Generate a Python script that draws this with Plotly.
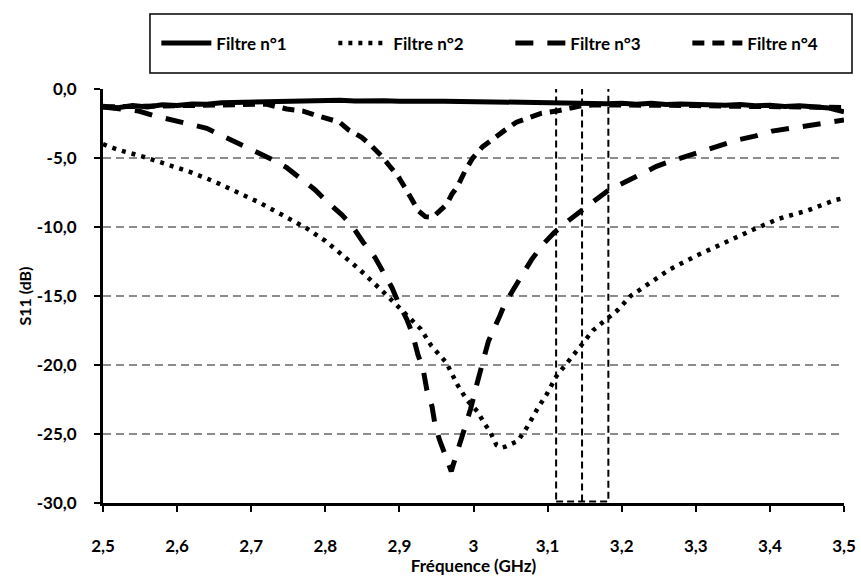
import plotly.graph_objects as go

# ---------------- data ----------------
x_f1 = [2.50, 2.52, 2.54, 2.56, 2.58, 2.60, 2.62, 2.64, 2.66, 2.68, 2.70, 2.72, 2.74, 2.76, 2.78,
        2.80, 2.82, 2.84, 2.86, 2.88, 2.90, 2.92, 2.94, 2.96, 2.98, 3.00, 3.02, 3.04, 3.06, 3.08,
        3.10, 3.12, 3.14, 3.16, 3.18, 3.20, 3.22, 3.24, 3.26, 3.28, 3.30, 3.32, 3.34, 3.36, 3.38,
        3.40, 3.42, 3.44, 3.46, 3.48, 3.50]
y_f1 = [-1.25, -1.35, -1.20, -1.30, -1.15, -1.20, -1.08, -1.10, -1.00, -0.98, -0.92, -0.95, -0.88, -0.90, -0.84,
        -0.86, -0.82, -0.87, -0.82, -0.86, -0.88, -0.84, -0.89, -0.88, -0.90, -0.88, -0.93, -0.90, -0.96, -0.93,
        -0.99, -0.98, -1.04, -1.00, -1.06, -1.03, -1.10, -1.04, -1.12, -1.08, -1.13, -1.10, -1.18, -1.12, -1.22,
        -1.18, -1.27, -1.22, -1.33, -1.38, -1.65]

x_f2 = [2.500, 2.520, 2.554, 2.585, 2.617, 2.650, 2.680, 2.710, 2.741, 2.775, 2.800, 2.817, 2.846, 2.882,
        2.900, 2.929, 2.943, 2.963, 2.979, 2.992, 3.006, 3.013, 3.022, 3.031, 3.038, 3.044, 3.060, 3.073,
        3.087, 3.098, 3.112, 3.129, 3.145, 3.161, 3.179, 3.195, 3.212, 3.242, 3.264, 3.300, 3.340, 3.377,
        3.412, 3.451, 3.488, 3.500]
y_f2 = [-4.0, -4.4, -4.9, -5.4, -6.0, -6.7, -7.45, -8.2, -9.1, -10.1, -11.0, -11.75, -13.07, -14.9,
        -15.9, -17.4, -18.6, -19.8, -21.5, -22.6, -23.4, -24.1, -24.8, -25.8, -26.0, -25.9, -25.5, -24.45,
        -23.1, -22.2, -20.8, -19.6, -18.6, -17.5, -16.7, -16.0, -15.0, -13.9, -13.1, -12.1, -11.1, -10.2,
        -9.4, -8.8, -8.05, -7.9]

x_f3 = [2.500, 2.520, 2.548, 2.570, 2.593, 2.617, 2.640, 2.662, 2.682, 2.705, 2.728, 2.748, 2.765, 2.786,
        2.803, 2.822, 2.836, 2.851, 2.867, 2.878, 2.890, 2.898, 2.910, 2.918, 2.925, 2.932, 2.937, 2.944,
        2.948, 2.954, 2.963, 2.970, 2.974, 2.980, 2.988, 2.996, 3.004, 3.010, 3.020, 3.035, 3.042, 3.053,
        3.065, 3.078, 3.093, 3.109, 3.129, 3.146, 3.166, 3.183, 3.206, 3.224, 3.247, 3.268, 3.291, 3.314,
        3.334, 3.356, 3.381, 3.403, 3.428, 3.449, 3.473, 3.500]
y_f3 = [-1.3, -1.45, -1.6, -1.95, -2.2, -2.55, -2.85, -3.4, -3.85, -4.5, -5.1, -5.7, -6.4, -7.3,
        -8.2, -9.1, -9.9, -11.1, -12.2, -13.2, -14.4, -15.4, -16.7, -17.8, -19.25, -20.3, -21.8, -23.0,
        -24.3, -25.4, -26.7, -27.7, -27.0, -26.0, -24.5, -23.2, -21.5, -20.4, -18.3, -16.5, -15.6, -14.6,
        -13.5, -12.4, -11.3, -10.4, -9.5, -8.8, -8.0, -7.3, -6.7, -6.2, -5.6, -5.2, -4.8, -4.4,
        -4.1, -3.7, -3.4, -3.05, -2.85, -2.65, -2.45, -2.25]

x_f4 = [2.500, 2.550, 2.600, 2.650, 2.700, 2.720, 2.748, 2.770, 2.790, 2.806, 2.819, 2.831, 2.849, 2.862,
        2.875, 2.887, 2.898, 2.907, 2.916, 2.926, 2.935, 2.945, 2.954, 2.964, 2.971, 2.978, 2.988, 2.999,
        3.012, 3.027, 3.042, 3.058, 3.074, 3.092, 3.112, 3.130, 3.147, 3.166, 3.200, 3.250, 3.300, 3.350,
        3.400, 3.450, 3.500]
y_f4 = [-1.3, -1.25, -1.15, -1.1, -1.05, -1.1, -1.45, -1.6, -1.95, -2.2, -2.4, -2.95, -3.5, -4.1,
        -4.8, -5.6, -6.3, -7.1, -8.0, -8.85, -9.25, -9.3, -8.85, -8.35, -7.6, -7.1, -6.0, -5.0,
        -4.2, -3.55, -3.0, -2.4, -2.1, -1.75, -1.6, -1.35, -1.2, -1.15, -1.15, -1.2, -1.2, -1.25,
        -1.25, -1.3, -1.35]

series_names = ["Filtre n°1", "Filtre n°2", "Filtre n°3", "Filtre n°4"]

x_tick_vals = [2.5, 2.6, 2.7, 2.8, 2.9, 3.0, 3.1, 3.2, 3.3, 3.4, 3.5]
x_tick_text = ["2,5", "2,6", "2,7", "2,8", "2,9", "3", "3,1", "3,2", "3,3", "3,4", "3,5"]
y_tick_vals = [0, -5, -10, -15, -20, -25, -30]
y_tick_text = ["0,0", "-5,0", "-10,0", "-15,0", "-20,0", "-25,0", "-30,0"]

# zoom rectangle (GHz / dB)
rect_x0, rect_xm, rect_x1 = 3.1115, 3.1465, 3.182
rect_y0, rect_y1 = -29.9, 0.12

# ---------------- figure ----------------
FONT = "Lato"

fig = go.Figure()
styles = [
    dict(width=5, dash="solid"),
    dict(width=4.5, dash="4px,6px"),
    dict(width=5, dash="18px,14px"),
    dict(width=5, dash="12px,8px"),
]
for name, xs, ys, st in zip(series_names, [x_f1, x_f2, x_f3, x_f4], [y_f1, y_f2, y_f3, y_f4], styles):
    fig.add_trace(go.Scatter(x=xs, y=ys, mode="lines", name=name,
                             line=dict(color="black", width=st["width"], dash=st["dash"])))

dash_line = dict(color="black", width=2, dash="7px,4px")
fig.add_shape(type="rect", x0=rect_x0, x1=rect_x1, y0=rect_y0, y1=rect_y1, line=dash_line, layer="above")
fig.add_shape(type="line", x0=rect_xm, x1=rect_xm, y0=rect_y0, y1=rect_y1, line=dash_line, layer="above")

# legend frame (paper coordinates)
fig.add_shape(type="rect", xref="paper", yref="paper", x0=0.0634, x1=1.0108, y0=1.0387, y1=1.181,
              line=dict(color="black", width=1.5), fillcolor="white", layer="below")

fig.update_layout(
    width=861, height=576,
    margin=dict(l=103, r=17, t=89, b=73, autoexpand=False),
    paper_bgcolor="white", plot_bgcolor="white",
    font=dict(family=FONT, size=17, color="black", weight="bold"),
    showlegend=True,
    legend=dict(orientation="h", x=0.072, xanchor="left", y=1.110, yanchor="middle",
                borderwidth=0, bgcolor="rgba(0,0,0,0)",
                font=dict(family=FONT, size=17, color="black", weight="bold"),
                entrywidth=112, entrywidthmode="pixels", itemwidth=50,
                tracegroupgap=0),
    xaxis=dict(range=[2.5, 3.5], tickvals=x_tick_vals, ticktext=x_tick_text,
               showgrid=False, zeroline=False,
               showline=True, linecolor="black", linewidth=3,
               ticks="outside", ticklen=6, tickwidth=2, tickcolor="black",
               ticklabelstandoff=20,
               tickfont=dict(family=FONT, size=17, weight="bold"),
               title=dict(text="Fréquence (GHz)", standoff=4,
                          font=dict(family=FONT, size=17, weight="bold"))),
    yaxis=dict(range=[-30, 0], tickvals=y_tick_vals, ticktext=y_tick_text,
               showgrid=True, gridcolor="#8c8c8c", griddash="8px,5px", gridwidth=1.5,
               zeroline=False,
               showline=True, linecolor="black", linewidth=3,
               ticks="outside", ticklen=6, tickwidth=2, tickcolor="black",
               ticklabelstandoff=14,
               tickfont=dict(family=FONT, size=17, weight="bold"),
               title=dict(text="S11 (dB)", standoff=2,
                          font=dict(family=FONT, size=16, weight="bold"))),
)

fig.write_html("out.html", config={"displayModeBar": False},
               post_script="document.body.style.margin='0';document.body.style.overflow='hidden';")
